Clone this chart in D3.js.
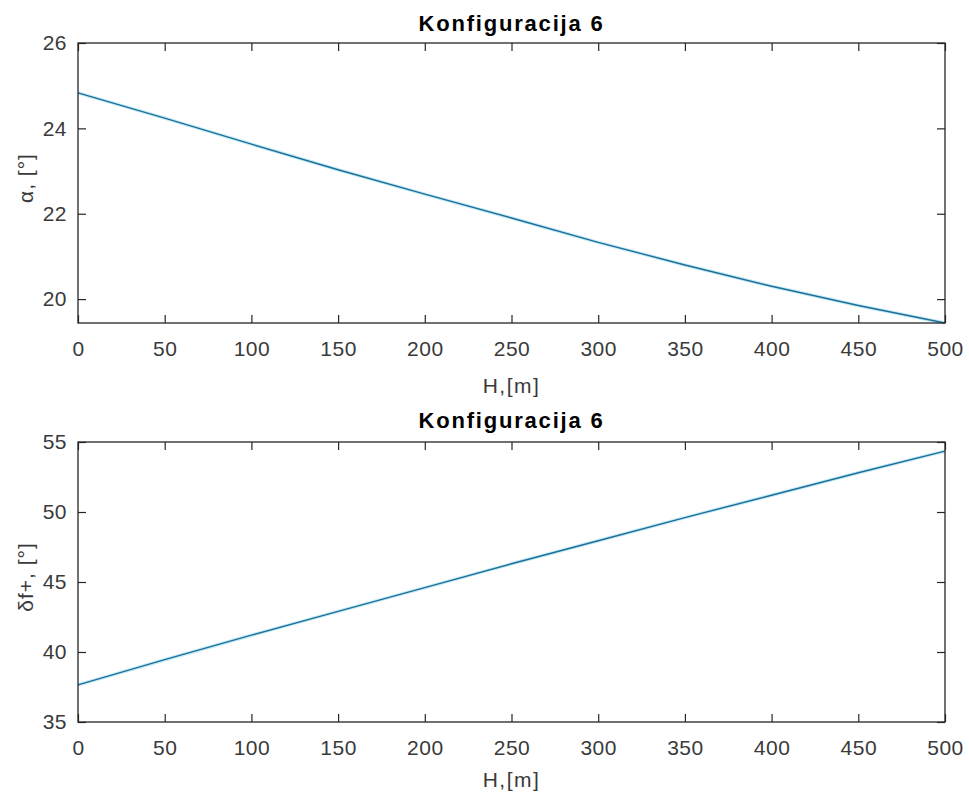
<!DOCTYPE html>
<html><head><meta charset="utf-8">
<script src="https://cdn.jsdelivr.net/npm/d3@7"></script>
<style>body{margin:0;background:#fff}</style>
</head><body>
<script>
const H = [0,50,100,150,200,250,300,350,400,450,500];
const alpha = [24.83,24.24,23.63,23.03,22.46,21.9,21.33,20.8,20.3,19.85,19.44];
const deltaF = [37.65,39.45,41.2,42.9,44.6,46.3,47.95,49.6,51.2,52.8,54.35];
const xTicks = [0,50,100,150,200,250,300,350,400,450,500];
const yTicksTop = [20,22,24,26];
const yTicksBottom = [35,40,45,50,55];
const title = "Konfiguracija 6";
const xLabel = "H,[m]";

const W = 969, Ht = 796;
const svg = d3.select("body").append("svg").attr("width",W).attr("height",Ht)
  .style("font-family","'Liberation Sans', Arial, sans-serif");
const axCol = "#262626";
const lineCol = "#1f6e98";
const fs = "21px";

function panel(top, bottom, yDomain, yTicks, ys, yLab, titleOff, xlabOff){
  const left = 78, right = 945;
  const x = d3.scaleLinear().domain([0,500]).range([left,right]);
  const y = d3.scaleLinear().domain(yDomain).range([bottom,top]);
  const g = svg.append("g");
  const pts = H.map((h,i)=>[h,ys[i]]);
  const ln = d3.line().x(d=>x(d[0])).y(d=>y(d[1]));
  g.append("path").datum(pts).attr("fill","none").attr("stroke","#c4ecf7").attr("stroke-width",3.5).attr("d",ln);
  g.append("path").datum(pts).attr("fill","none").attr("stroke",lineCol).attr("stroke-width",1.4).attr("d",ln);
  const tl = 8;
  const ax = (sel)=>{sel.selectAll(".domain").remove();
    sel.selectAll("line").attr("stroke",axCol).attr("stroke-width",1.2);
    sel.selectAll("text").attr("fill","#3a3a3a").style("font-size",fs).style("letter-spacing","0.5px");};
  g.append("g").attr("transform",`translate(0,${bottom})`)
    .call(d3.axisBottom(x).tickValues(xTicks).tickSizeInner(-tl).tickSizeOuter(0).tickPadding(18).tickFormat(d3.format("d")))
    .call(ax);
  g.append("g").attr("transform",`translate(0,${top})`)
    .call(d3.axisTop(x).tickValues(xTicks).tickSizeInner(-tl).tickSizeOuter(0).tickFormat(""))
    .call(ax);
  g.append("g").attr("transform",`translate(${left},0)`)
    .call(d3.axisLeft(y).tickValues(yTicks).tickSizeInner(-tl).tickSizeOuter(0).tickPadding(11).tickFormat(d3.format("d")))
    .call(ax);
  g.append("g").attr("transform",`translate(${right},0)`)
    .call(d3.axisRight(y).tickValues(yTicks).tickSizeInner(-tl).tickSizeOuter(0).tickFormat(""))
    .call(ax);
  g.append("rect").attr("x",left).attr("y",top).attr("width",right-left).attr("height",bottom-top)
    .attr("fill","none").attr("stroke",axCol).attr("stroke-width",1.3);
  g.append("text").attr("x",(left+right)/2).attr("y",top-titleOff).attr("text-anchor","middle")
    .style("font-size","22px").style("font-weight","bold").style("letter-spacing","1.8px").attr("fill","#000").text(title);
  g.append("text").attr("x",(left+right)/2).attr("y",bottom+xlabOff).attr("text-anchor","middle")
    .style("font-size",fs).style("letter-spacing","1.5px").attr("fill","#3a3a3a").text(xLabel);
  g.append("text").attr("transform",`translate(33,${(top+bottom)/2 - 5}) rotate(-90)`)
    .attr("text-anchor","middle").style("font-size",fs).style("letter-spacing","1px").attr("fill","#3a3a3a").text(yLab);
}
panel(43, 323, [19.44,26], yTicksTop, alpha, "α, [°]", 12, 70);
panel(442, 722, [35,55], yTicksBottom, deltaF, "δf+, [°]", 14, 65);
</script>
</body></html>
